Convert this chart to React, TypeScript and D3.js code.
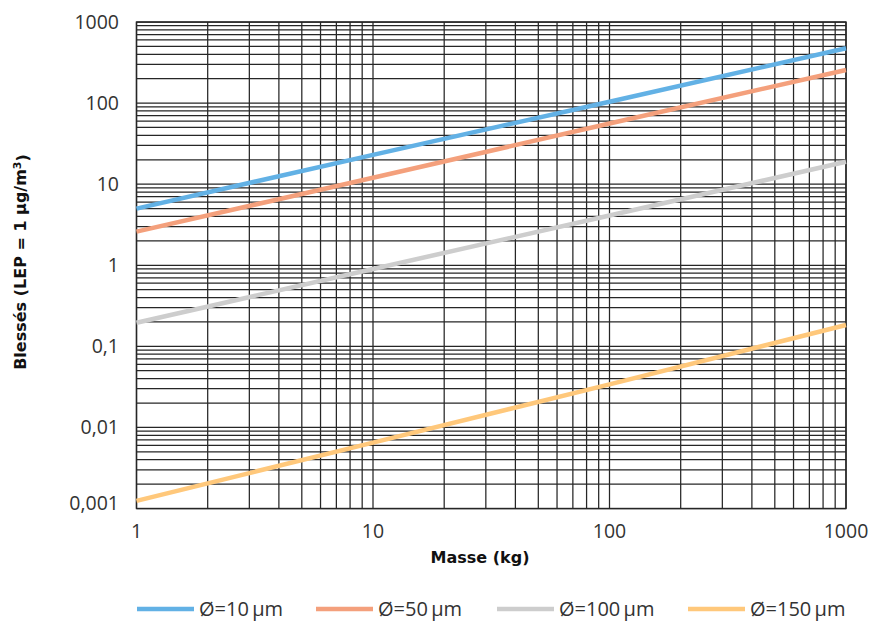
import { useRef, useEffect } from 'react';
import { select, scaleLog, line } from 'd3';

const W = 870;
const H = 622;
const plot = { left: 136.5, right: 846, top: 22, bottom: 508.5 };

// masses (kg) where the values were read
const masses = [1, 10, 100, 1000];
const d10 = [5.0, 23, 104, 474];
const d50 = [2.6, 12, 56, 256];
const d100 = [0.195, 0.9, 4.1, 18.9];
const d150 = [0.00124, 0.0065, 0.034, 0.183];

const seriesNames = ['Ø=10\u2009µm', 'Ø=50\u2009µm', 'Ø=100\u2009µm', 'Ø=150\u2009µm'];
const seriesColors = ['#62B1E5', '#F4A07C', '#CDCDCD', '#FFC87B'];
const seriesValues = [d10, d50, d100, d150];

const xTickValues = [1, 10, 100, 1000];
const xTickLabels = ['1', '10', '100', '1000'];
const yTickValues = [1000, 100, 10, 1, 0.1, 0.01, 0.001];
const yTickLabels = ['1000', '100', '10', '1', '0,1', '0,01', '0,001'];

// legend swatch start positions
const legendX = [137, 316, 497, 688];

const tickFont = '"Open Sans", sans-serif';
const titleFont = '"DejaVu Sans", sans-serif';

export default function App() {
  const svgRef = useRef(null);

  useEffect(() => {
    const svg = select(svgRef.current);
    svg.selectAll('*').remove();

    const x = scaleLog().domain([1, 1000]).range([plot.left, plot.right]);
    const y = scaleLog().domain([0.001, 1000]).range([plot.bottom, plot.top]);

    const grid = svg.append('g');
    // vertical grid
    grid.selectAll('.vx')
      .data(x.ticks())
      .join('line')
      .attr('x1', d => x(d)).attr('x2', d => x(d))
      .attr('y1', plot.top).attr('y2', plot.bottom)
      .attr('stroke', '#262626').attr('stroke-width', 1.25);
    // horizontal grid
    grid.selectAll('.hy')
      .data(y.ticks())
      .join('line')
      .attr('x1', plot.left).attr('x2', plot.right)
      .attr('y1', d => y(d)).attr('y2', d => y(d))
      .attr('stroke', '#262626').attr('stroke-width', 1.25);
    grid.append('rect')
      .attr('x', plot.left).attr('y', plot.top)
      .attr('width', plot.right - plot.left).attr('height', plot.bottom - plot.top)
      .attr('fill', 'none').attr('stroke', '#262626').attr('stroke-width', 1.4);

    // series lines
    const myLine = line<number>()
      .x((_, i) => x(masses[i]))
      .y(v => y(v));
    svg.append('g').selectAll('path')
      .data(seriesValues)
      .join('path')
      .attr('d', d => myLine(d))
      .attr('fill', 'none')
      .attr('stroke', (_, i) => seriesColors[i])
      .attr('stroke-width', 4.5);

    // y tick labels (bottom one sits a bit higher in the original)
    svg.append('g').selectAll('text')
      .data(yTickValues)
      .join('text')
      .attr('x', 119)
      .attr('y', d => (d === 0.001 ? y(d) - 5 : y(d)))
      .attr('dy', '0.35em')
      .attr('text-anchor', 'end')
      .attr('font-family', tickFont)
      .attr('font-size', 19.5)
      .attr('fill', '#333')
      .text((_, i) => yTickLabels[i]);

    // x tick labels
    svg.append('g').selectAll('text')
      .data(xTickValues)
      .join('text')
      .attr('x', d => x(d))
      .attr('y', 531)
      .attr('dy', '0.35em')
      .attr('text-anchor', 'middle')
      .attr('font-family', tickFont)
      .attr('font-size', 19.5)
      .attr('fill', '#333')
      .text((_, i) => xTickLabels[i]);

    // axis titles
    svg.append('text')
      .attr('x', 480).attr('y', 557).attr('dy', '0.35em')
      .attr('text-anchor', 'middle')
      .attr('font-family', titleFont).attr('font-weight', 'bold')
      .attr('font-size', 16).attr('fill', '#111')
      .text('Masse (kg)');

    const yt = svg.append('text')
      .attr('transform', 'translate(20,262) rotate(-90)')
      .attr('dy', '0.35em')
      .attr('text-anchor', 'middle')
      .attr('font-family', titleFont).attr('font-weight', 'bold')
      .attr('font-size', 16).attr('fill', '#111');
    yt.append('tspan').text('Blessés (LEP = 1 µg/m');
    yt.append('tspan').attr('dy', '-0.45em').attr('font-size', 11).text('3');
    yt.append('tspan').attr('dy', '0.45em').text(')');

    // legend
    const lg = svg.append('g').selectAll('g')
      .data(seriesNames)
      .join('g')
      .attr('transform', (_, i) => `translate(${legendX[i]},609)`);
    lg.append('line')
      .attr('x1', 0).attr('x2', 57)
      .attr('stroke', (_, i) => seriesColors[i])
      .attr('stroke-width', 4.5);
    lg.append('text')
      .attr('x', 62).attr('dy', '0.35em')
      .attr('font-family', tickFont)
      .attr('font-size', 20)
      .attr('fill', '#333')
      .text(d => d);
  }, []);

  return (
    <svg ref={svgRef} width={W} height={H}
      style={{ position: 'absolute', left: 0, top: 0, background: '#fff' }} />
  );
}
